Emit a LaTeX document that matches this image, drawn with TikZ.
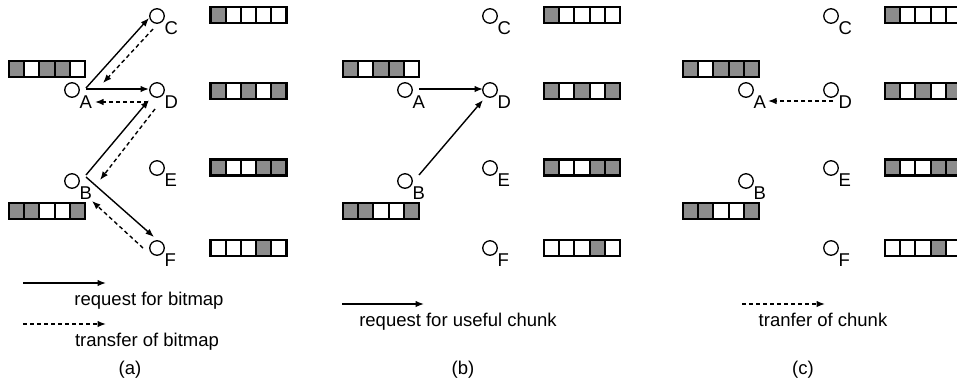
\documentclass[tikz,border=0pt]{standalone}
\usepackage{fontspec}
\setmainfont{Liberation Sans}
\usetikzlibrary{arrows.meta,calc}
\definecolor{bgrey}{RGB}{140,140,140}
\newcommand\bitmapbox[3]{%
  \foreach \v [count=\i from 0] in {#3}
    \draw[bitcell, fill=\v] ({#1+\i*15.2},{#2-8}) rectangle ++(15.2,16);
}
\begin{document}
\begin{tikzpicture}[x=1pt,y=-1pt,
  circ/.style={circle, draw, line width=1.3pt, minimum size=14.5pt, inner sep=0pt},
  lab/.style={anchor=base west, inner sep=0pt, font=\fontsize{18.5}{21}\selectfont},
  txt/.style={anchor=base, inner sep=0pt, font=\fontsize{18.5}{21}\selectfont},
  bitcell/.style={line width=2.1pt, draw=black},
  req/.style={line width=1.4pt, -{Latex[length=8.5pt,width=6.5pt]}},
  xfer/.style={line width=1.4pt, dash pattern=on 4pt off 3pt, -{Latex[length=8.5pt,width=6.5pt]}},
]
\clip (0,0) rectangle (957,384);
\fill[white] (0,0) rectangle (957,384);

% ---------- panel (a) ----------
\node[circ] (aA) at (72,90) {};
\node[circ] (aB) at (72,181) {};
\node[circ] (aC) at (157,16) {};
\node[circ] (aD) at (157,90) {};
\node[circ] (aE) at (157,168) {};
\node[circ] (aF) at (157,248) {};
\foreach \n in {A,B,C,D,E,F} \node[lab] at ($(a\n)+(7.5,18)$) {\n};
\bitmapbox{9}{69}{bgrey,white,bgrey,bgrey,white}
\bitmapbox{9}{211}{bgrey,bgrey,white,white,bgrey}
\bitmapbox{210.5}{15}{bgrey,white,white,white,white}
\bitmapbox{210.5}{91}{bgrey,white,bgrey,white,bgrey}
\bitmapbox{210.5}{167.5}{bgrey,white,white,bgrey,bgrey}
\bitmapbox{210.5}{248}{white,white,white,bgrey,white}
\draw[req] ($(aA)+(14,-2)$) -- ($(aC)+(-8,2)$);
\draw[xfer] ($(aC)+(-4,13)$) -- ($(aA)+(31,-7)$);
\draw[req] ($(aA)+(14,-1)$) -- ($(aD)+(-8,-1)$);
\draw[xfer] ($(aD)+(-9,12)$) -- ($(aA)+(23,12)$);
\draw[req] ($(aB)+(14,-6)$) -- ($(aD)+(-8,10)$);
\draw[xfer] ($(aD)+(-2,19)$) -- ($(aB)+(28,-1)$);
\draw[req] ($(aB)+(14,-4)$) -- ($(aF)+(-3,-11)$);
\draw[xfer] ($(aF)+(-14,0)$) -- ($(aB)+(20,20)$);
\coordinate (la1s) at (23,283); \coordinate (la1e) at (106,283);
\coordinate (la2s) at (23,324); \coordinate (la2e) at (106,324);
\draw[req] (la1s) -- (la1e);
\draw[xfer] (la2s) -- (la2e);
\node[txt] (ta1) at (149,305) {request for bitmap};
\node[txt] (ta2) at (147,346) {transfer of bitmap};
\node[txt] (capa) at (130,374) {(a)};

% ---------- panel (b) ----------
\node[circ] (bA) at (405,90) {};
\node[circ] (bB) at (405,181) {};
\node[circ] (bC) at (490,16) {};
\node[circ] (bD) at (490,90) {};
\node[circ] (bE) at (490,168) {};
\node[circ] (bF) at (490,248) {};
\foreach \n in {A,B,C,D,E,F} \node[lab] at ($(b\n)+(7.5,18)$) {\n};
\bitmapbox{343}{69}{bgrey,white,bgrey,bgrey,white}
\bitmapbox{343}{211}{bgrey,bgrey,white,white,bgrey}
\bitmapbox{544}{15}{bgrey,white,white,white,white}
\bitmapbox{544}{91}{bgrey,white,bgrey,white,bgrey}
\bitmapbox{544}{167.5}{bgrey,white,white,bgrey,bgrey}
\bitmapbox{544}{248}{white,white,white,bgrey,white}
\draw[req] ($(bA)+(14,-1)$) -- ($(bD)+(-7,-1)$);
\draw[req] ($(bB)+(14,-6)$) -- ($(bD)+(-7,10)$);
\coordinate (lbs) at (342,304); \coordinate (lbe) at (424,304);
\draw[req] (lbs) -- (lbe);
\node[txt] (tb) at (458,326) {request for useful chunk};
\node[txt] (capb) at (463,374) {(b)};

% ---------- panel (c) ----------
\node[circ] (cA) at (746,90) {};
\node[circ] (cB) at (746,181) {};
\node[circ] (cC) at (831,16) {};
\node[circ] (cD) at (831,90) {};
\node[circ] (cE) at (831,168) {};
\node[circ] (cF) at (831,248) {};
\foreach \n in {A,B,C,D,E,F} \node[lab] at ($(c\n)+(7.5,18)$) {\n};
\bitmapbox{683}{69}{bgrey,white,bgrey,bgrey,bgrey}
\bitmapbox{683}{211}{bgrey,bgrey,white,white,bgrey}
\bitmapbox{885}{15}{bgrey,white,white,white,white}
\bitmapbox{885}{91}{bgrey,white,bgrey,white,bgrey}
\bitmapbox{885}{167.5}{bgrey,white,white,bgrey,bgrey}
\bitmapbox{885}{248}{white,white,white,bgrey,white}
\draw[xfer] ($(cD)+(2,11)$) -- ($(cA)+(22,11)$);
\coordinate (lcs) at (742,304); \coordinate (lce) at (825,304);
\draw[xfer] (lcs) -- (lce);
\node[txt] (tc) at (823,326) {tranfer of chunk};
\node[txt] (capc) at (803,374) {(c)};
\end{tikzpicture}
\end{document}
